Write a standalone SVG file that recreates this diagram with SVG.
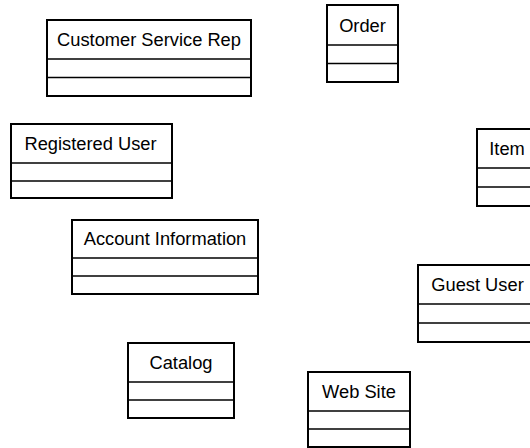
<svg xmlns="http://www.w3.org/2000/svg" width="530" height="448" viewBox="0 0 530 448">
<style>
.box{fill:#fff;stroke:#000;stroke-width:2}
.div{stroke:#000;stroke-width:1.3}
.lbl{font-family:"Liberation Sans",Arial,sans-serif;font-size:18.3px;fill:#000;text-anchor:middle}
</style>
<rect width="530" height="448" fill="#fff"/>
<g id="connectors"></g>
<g id="customer-service-rep">
<rect class="box" x="47" y="20" width="204" height="76"/>
<line class="div" x1="47" y1="59" x2="251" y2="59"/>
<line class="div" x1="47" y1="77.5" x2="251" y2="77.5"/>
<text class="lbl" x="149" y="46">Customer Service Rep</text>
</g>
<g id="order">
<rect class="box" x="327" y="5" width="71" height="77"/>
<line class="div" x1="327" y1="45" x2="398" y2="45"/>
<line class="div" x1="327" y1="63.5" x2="398" y2="63.5"/>
<text class="lbl" x="362.5" y="31.5">Order</text>
</g>
<g id="registered-user">
<rect class="box" x="11" y="124" width="161" height="74"/>
<line class="div" x1="11" y1="163" x2="172" y2="163"/>
<line class="div" x1="11" y1="181" x2="172" y2="181"/>
<text class="lbl" x="90.5" y="150">Registered User</text>
</g>
<g id="item">
<rect class="box" x="477" y="129" width="60" height="77"/>
<line class="div" x1="477" y1="168" x2="537" y2="168"/>
<line class="div" x1="477" y1="187" x2="537" y2="187"/>
<text class="lbl" x="507" y="155">Item</text>
</g>
<g id="account-information">
<rect class="box" x="72" y="220" width="186" height="74"/>
<line class="div" x1="72" y1="258" x2="258" y2="258"/>
<line class="div" x1="72" y1="276" x2="258" y2="276"/>
<text class="lbl" x="165" y="245">Account Information</text>
</g>
<g id="guest-user">
<rect class="box" x="418" y="265" width="120" height="77"/>
<line class="div" x1="418" y1="304" x2="538" y2="304"/>
<line class="div" x1="418" y1="323" x2="538" y2="323"/>
<text class="lbl" x="477.5" y="291">Guest User</text>
</g>
<g id="catalog">
<rect class="box" x="128" y="343" width="106" height="75"/>
<line class="div" x1="128" y1="382" x2="234" y2="382"/>
<line class="div" x1="128" y1="400" x2="234" y2="400"/>
<text class="lbl" x="181" y="369">Catalog</text>
</g>
<g id="web-site">
<rect class="box" x="308" y="372" width="102" height="75"/>
<line class="div" x1="308" y1="411" x2="410" y2="411"/>
<line class="div" x1="308" y1="429" x2="410" y2="429"/>
<text class="lbl" x="359" y="398">Web Site</text>
</g>
</svg>
